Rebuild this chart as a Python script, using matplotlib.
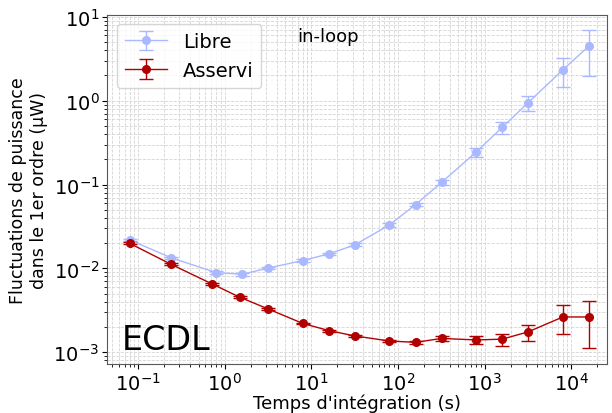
import matplotlib
matplotlib.use("Agg")
import matplotlib.pyplot as plt

# integration times (s)
tau_libre = [0.08, 0.24, 0.8, 1.6, 3.2, 8, 16, 32, 80, 160, 320, 800, 1600, 3200, 8000, 16000]
tau_asservi = [0.08, 0.24, 0.72, 1.5, 3.2, 8, 16, 32, 80, 160, 320, 800, 1600, 3200, 8000, 16000]

# free-running laser (uW)
libre = [0.0219, 0.0134, 0.0089, 0.0085, 0.0101, 0.0124, 0.0149, 0.0191,
         0.033, 0.0577, 0.106, 0.244, 0.48, 0.95, 2.33, 4.47]
libre_err = [0.0006, 0.0004, 0.0003, 0.0003, 0.0003, 0.0004, 0.0005, 0.0007,
             0.0015, 0.003, 0.007, 0.031, 0.075, 0.2, 0.87, 2.5]

# locked laser (uW)
asservi = [0.0199, 0.0112, 0.0065, 0.00452, 0.00327, 0.00220, 0.00181, 0.00156,
           0.00136, 0.00131, 0.00146, 0.00140, 0.00143, 0.00175, 0.00263, 0.00263]
asservi_err = [0.0005, 0.0003, 0.0002, 0.00013, 0.0001, 0.00006, 0.00005, 0.00005,
               0.00005, 0.00006, 0.0001, 0.00016, 0.00024, 0.00038, 0.001, 0.0015]

fig = plt.figure(figsize=(6.12, 4.14), dpi=100)
ax = fig.add_axes([0.175, 0.118, 0.817, 0.844])

ax.errorbar(tau_libre, libre, yerr=libre_err, color="#aab8ff", marker="o", ms=5.5,
            lw=1, capsize=5, label="Libre")
ax.errorbar(tau_asservi, asservi, yerr=asservi_err, color="#b20000", marker="o", ms=5.5,
            lw=1, capsize=5, label="Asservi")

ax.set_xscale("log")
ax.set_yscale("log")
ax.set_xlim(0.044, 26000)
ax.set_ylim(7.2e-4, 10.6)
ax.grid(True, which="both", linestyle="--", color="#d4d4d4", lw=0.6)
ax.tick_params(labelsize=14, pad=2)
for s in ax.spines.values():
    s.set_color("0.35")

ax.set_xlabel("Temps d'intégration (s)", fontsize=13, labelpad=0)
ax.set_ylabel("Fluctuations de puissance\ndans le 1er ordre (µW)", fontsize=12.5)

ax.text(0.38, 0.94, "in-loop", transform=ax.transAxes, fontsize=13, va="center")
ax.text(0.03, 0.07, "ECDL", transform=ax.transAxes, fontsize=24, va="center")
ax.legend(loc="upper left", fontsize=14, handlelength=2.2)

fig.savefig("out.png", dpi=100)
